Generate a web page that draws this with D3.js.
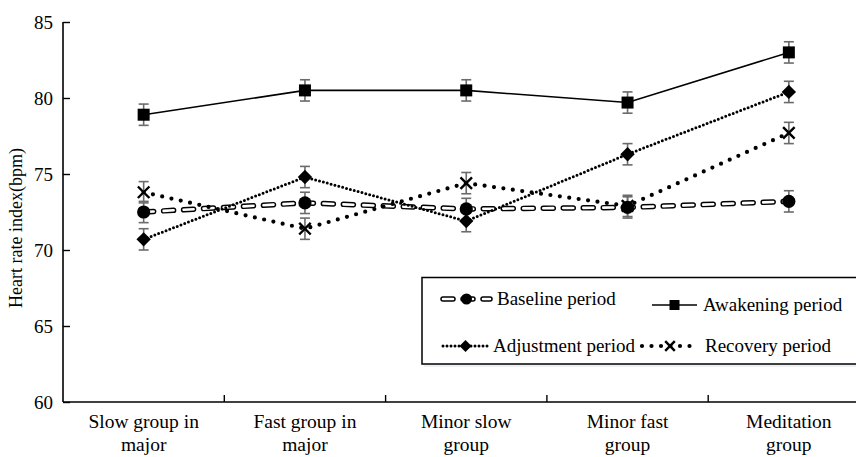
<!DOCTYPE html>
<html>
<head>
<meta charset="utf-8">
<script src="https://cdn.jsdelivr.net/npm/d3@7"></script>
<style>
body { margin: 0; background: #fff; }
#chart text { font-family: "Liberation Serif", "Times New Roman", serif; fill: #000; }
</style>
</head>
<body>
<div id="chart"></div>
<script>
// category labels, split into lines as in the figure
var categories = ['Slow group in major', 'Fast group in major', 'Minor slow group', 'Minor fast group', 'Meditation group'];
var categoryLines = [['Slow group in', 'major'], ['Fast group in', 'major'], ['Minor slow', 'group'], ['Minor fast', 'group'], ['Meditation', 'group']];

// heart rate index (bpm) per period
var baseline   = [72.5, 73.1, 72.7, 72.8, 73.2];
var awakening  = [78.9, 80.5, 80.5, 79.7, 83.0];
var adjustment = [70.7, 74.8, 71.9, 76.3, 80.4];
var recovery   = [73.8, 71.4, 74.4, 72.9, 77.7];

// error bars (+/-)
var baselineErr   = [0.7, 0.7, 0.7, 0.7, 0.7];
var awakeningErr  = [0.7, 0.7, 0.7, 0.7, 0.7];
var adjustmentErr = [0.7, 0.7, 0.7, 0.7, 0.7];
var recoveryErr   = [0.7, 0.7, 0.7, 0.7, 0.7];

var yTicks = [60, 65, 70, 75, 80, 85];

var
CHART_WIDTH = 856,
CHART_HEIGHT = 457,
X0 = 63,          // y axis position
BAND = 161.3,     // width of one group
Y_TOP = 22, Y_BOTTOM = 402;

var svg = d3.select('#chart')
	.append('svg')
	.attr('width', CHART_WIDTH)
	.attr('height', CHART_HEIGHT);

var xScale = d3.scaleBand()
	.domain(categories)
	.range([X0, X0 + BAND * categories.length]);

var yScale = d3.scaleLinear()
	.domain([60, 85])
	.range([Y_BOTTOM, Y_TOP]);

function cx(i) { return xScale(categories[i]) + xScale.bandwidth() / 2; }

// axes
var yAxis = d3.axisRight(yScale).tickValues(yTicks).tickSize(7).tickFormat(d3.format('d'));
var gy = svg.append('g')
	.attr('transform', 'translate(' + X0 + ',0)')
	.call(yAxis);
gy.select('.domain').attr('stroke', '#000').attr('stroke-width', 1.6).attr('d', 'M0,' + Y_TOP + 'V' + Y_BOTTOM);
gy.selectAll('.tick line').attr('stroke', '#000').attr('stroke-width', 1.4);
gy.selectAll('.tick text')
	.attr('x', -10)
	.attr('text-anchor', 'end')
	.style('font-size', '19px');

var xAxis = d3.axisTop(xScale).tickSize(0).tickFormat('');
var gx = svg.append('g')
	.attr('transform', 'translate(0,' + Y_BOTTOM + ')')
	.call(xAxis);
gx.select('.domain').attr('stroke', '#000').attr('stroke-width', 1.6)
	.attr('d', 'M' + X0 + ',0H' + (X0 + BAND * categories.length));
// ticks between groups
gx.selectAll('line.sep')
	.data(categories.slice(1))
	.enter()
	.append('line')
	.attr('class', 'sep')
	.attr('x1', function(d) { return xScale(d); })
	.attr('x2', function(d) { return xScale(d); })
	.attr('y1', 0)
	.attr('y2', -7)
	.attr('stroke', '#000')
	.attr('stroke-width', 1.4);

var catLabels = svg.append('g')
	.selectAll('text')
	.data(categoryLines)
	.enter()
	.append('text')
	.attr('text-anchor', 'middle')
	.style('font-size', '19.5px');
catLabels.each(function(lines, i) {
	d3.select(this).selectAll('tspan')
		.data(lines)
		.enter()
		.append('tspan')
		.attr('x', cx(i))
		.attr('y', function(d, j) { return 428 + j * 23; })
		.text(function(d) { return d; });
});

svg.append('text')
	.attr('transform', 'translate(22,' + 228 + ') rotate(-90)')
	.attr('text-anchor', 'middle')
	.style('font-size', '18px')
	.text('Heart rate index(bpm)');

// series definitions
var series = [
	{ name: 'Baseline period', values: baseline, err: baselineErr, style: 'hollowdash', marker: 'circle' },
	{ name: 'Awakening period', values: awakening, err: awakeningErr, style: 'solid', marker: 'square' },
	{ name: 'Adjustment period', values: adjustment, err: adjustmentErr, style: 'finedot', marker: 'diamond' },
	{ name: 'Recovery period', values: recovery, err: recoveryErr, style: 'bigdot', marker: 'cross' }
];

var line = d3.line()
	.x(function(d, i) { return cx(i); })
	.y(function(d) { return yScale(d); });

function drawLine(g, style, d) {
	if (style === 'solid') {
		g.append('path').attr('d', d).attr('fill', 'none').attr('stroke', '#000').attr('stroke-width', 1.6);
	} else if (style === 'finedot') {
		g.append('path').attr('d', d).attr('fill', 'none').attr('stroke', '#000')
			.attr('stroke-width', 3).attr('stroke-linecap', 'round').attr('stroke-dasharray', '0,4');
	} else if (style === 'bigdot') {
		g.append('path').attr('d', d).attr('fill', 'none').attr('stroke', '#000')
			.attr('stroke-width', 4.2).attr('stroke-linecap', 'round').attr('stroke-dasharray', '0,9.5');
	} else {
		g.append('path').attr('d', d).attr('fill', 'none').attr('stroke', '#000')
			.attr('stroke-width', 5.5).attr('stroke-linecap', 'round').attr('stroke-dasharray', '10,10');
		g.append('path').attr('d', d).attr('fill', 'none').attr('stroke', '#fff')
			.attr('stroke-width', 2.6).attr('stroke-linecap', 'round').attr('stroke-dasharray', '10,10');
	}
}

function drawMarker(g, marker, x, y, s) {
	if (marker === 'circle') {
		g.append('circle').attr('cx', x).attr('cy', y).attr('r', s * 0.55).attr('fill', '#000');
	} else if (marker === 'square') {
		g.append('rect').attr('x', x - s / 2).attr('y', y - s / 2).attr('width', s).attr('height', s).attr('fill', '#000');
	} else if (marker === 'diamond') {
		var h = s * 0.6;
		g.append('path').attr('d', 'M' + x + ',' + (y - h) + 'L' + (x + h) + ',' + y + 'L' + x + ',' + (y + h) + 'L' + (x - h) + ',' + y + 'Z').attr('fill', '#000');
	} else {
		var c = s * 0.48;
		g.append('path').attr('d', 'M' + (x - c) + ',' + (y - c) + 'L' + (x + c) + ',' + (y + c) + 'M' + (x - c) + ',' + (y + c) + 'L' + (x + c) + ',' + (y - c))
			.attr('stroke', '#000').attr('stroke-width', 2.4).attr('fill', 'none');
	}
}

var plot = svg.append('g');
series.forEach(function(s) {
	drawLine(plot.append('g'), s.style, line(s.values));
});

// error bars
series.forEach(function(s) {
	var eb = plot.append('g').attr('stroke', '#6b6b6b').attr('stroke-width', 1.6);
	s.values.forEach(function(v, i) {
		var x = cx(i), y1 = yScale(v + s.err[i]), y2 = yScale(v - s.err[i]);
		eb.append('line').attr('x1', x).attr('x2', x).attr('y1', y1).attr('y2', y2);
		eb.append('line').attr('x1', x - 5).attr('x2', x + 5).attr('y1', y1).attr('y2', y1);
		eb.append('line').attr('x1', x - 5).attr('x2', x + 5).attr('y1', y2).attr('y2', y2);
	});
});

// markers
series.forEach(function(s) {
	var mg = plot.append('g');
	s.values.forEach(function(v, i) {
		drawMarker(mg, s.marker, cx(i), yScale(v), 12);
	});
});

// legend
var legend = svg.append('g').attr('class', 'legend');
legend.append('rect')
	.attr('x', 424).attr('y', 280).attr('width', 440).attr('height', 87)
	.attr('fill', '#eef0f3');
legend.append('rect')
	.attr('x', 422).attr('y', 277.5).attr('width', 440).attr('height', 86.5)
	.attr('fill', '#fff').attr('stroke', '#000').attr('stroke-width', 1.5);

var legendPos = [
	{ x1: 443, x2: 490, y: 299, tx: 497 },
	{ x1: 652, x2: 697, y: 305, tx: 703 },
	{ x1: 443, x2: 488, y: 346, tx: 493 },
	{ x1: 642, x2: 698, y: 346, tx: 705 }
];
series.forEach(function(s, k) {
	var p = legendPos[k];
	var item = legend.append('g').attr('class', 'legend-item');
	drawLine(item, s.style, 'M' + p.x1 + ',' + p.y + 'H' + p.x2);
	drawMarker(item, s.marker, (p.x1 + p.x2) / 2, p.y, 10);
	item.append('text')
		.attr('x', p.tx)
		.attr('y', p.y + 6)
		.style('font-size', '19px')
		.text(s.name);
});
</script>
</body>
</html>
